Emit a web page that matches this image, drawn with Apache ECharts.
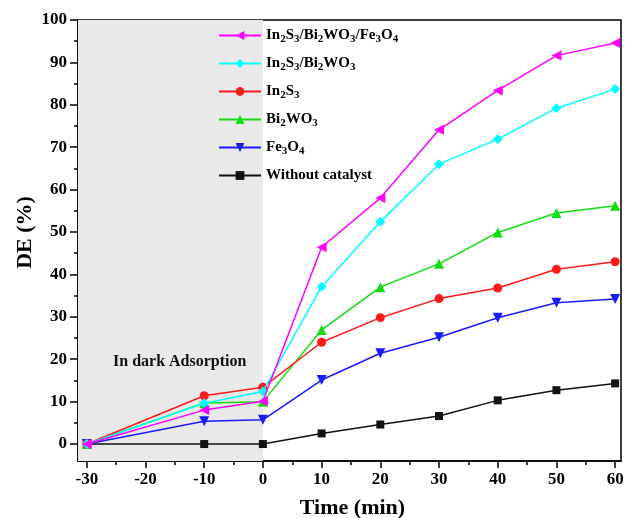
<!DOCTYPE html>
<html><head><meta charset="utf-8">
<script src="https://cdn.jsdelivr.net/npm/echarts@6/dist/echarts.min.js"></script>
<style>html,body{margin:0;padding:0;background:#fff}#c{width:626px;height:518px}</style>
</head><body><div id="c"></div>
<script>
const times = [-30, -10, 0, 10, 20, 30, 40, 50, 60];
const xTickLabels = [-30, -20, -10, 0, 10, 20, 30, 40, 50, 60];
const xMinorTicks = [-25, -15, -5, 5, 15, 25, 35, 45, 55];
const yTickLabels = [0, 10, 20, 30, 40, 50, 60, 70, 80, 90, 100];
const yMinorTicks = [5, 15, 25, 35, 45, 55, 65, 75, 85, 95];
const composite = [0, 8.0, 10.1, 46.4, 58.0, 74.1, 83.4, 91.6, 94.6];
const binary = [0, 9.6, 12.4, 37.1, 52.4, 66.0, 71.9, 79.2, 83.7];
const in2s3 = [0, 11.4, 13.4, 24.0, 29.8, 34.3, 36.8, 41.2, 43.0];
const bi2wo3 = [0, 9.7, 10.0, 26.9, 37.0, 42.5, 49.9, 54.5, 56.2];
const fe3o4 = [0, 5.4, 5.7, 15.1, 21.4, 25.2, 29.8, 33.3, 34.2];
const blank = [0, 0, 0, 2.5, 4.6, 6.6, 10.3, 12.7, 14.3];
const darkLabel = 'In dark Adsorption';
const darkEnd = 0;

const X_MIN = -31.5, X_MAX = 61, Y_MIN = -4, Y_MAX = 100;

const names = ['{n|In}{s|2}{n|S}{s|3}{n|/Bi}{s|2}{n|WO}{s|3}{n|/Fe}{s|3}{n|O}{s|4}',
  '{n|In}{s|2}{n|S}{s|3}{n|/Bi}{s|2}{n|WO}{s|3}',
  '{n|In}{s|2}{n|S}{s|3}',
  '{n|Bi}{s|2}{n|WO}{s|3}',
  '{n|Fe}{s|3}{n|O}{s|4}',
  '{n|Without catalyst}'];
const seriesIds = ['composite','binary','in2s3','bi2wo3','fe3o4','blank'];
const dataSets = [composite, binary, in2s3, bi2wo3, fe3o4, blank];
const colors = ['#ff00ff', '#00ffff', '#ff1a1a', '#11dd11', '#1a1aff', '#111111'];
const symbols = ['triangle', 'diamond', 'circle', 'triangle', 'triangle', 'rect'];
const rotations = [90, 0, 0, 0, 180, 0];
const sizes = [10, 10, 9, 10, 10, 8];

const serif = '"Liberation Serif", "DejaVu Serif", serif';
const chart = echarts.init(document.getElementById('c'));
const series = dataSets.map((d, i) => ({
  name: seriesIds[i],
  type: 'line',
  data: times.map((t, k) => [t, d[k]]),
  symbol: symbols[i],
  symbolRotate: rotations[i],
  symbolSize: sizes[i],
  lineStyle: { color: colors[i], width: 1.5 },
  itemStyle: { color: colors[i] },
  z: 10 - i,
  animation: false
}));
series[5].markArea = {
  silent: true,
  itemStyle: { color: '#e9e9e9' },
  label: {
    show: true, position: ['55%', '77.5%'], align: 'center', verticalAlign: 'middle',
    color: '#111', fontFamily: serif, fontWeight: 'bold', fontSize: 16
  },
  data: [[{ name: darkLabel, xAxis: X_MIN, yAxis: Y_MIN }, { xAxis: darkEnd, yAxis: Y_MAX }]]
};
const nameMap = {};
seriesIds.forEach((s, i) => nameMap[s] = names[i]);

const labelFont = { fontFamily: serif, fontWeight: 'bold', fontSize: 17, color: '#000' };
chart.setOption({
  animation: false,
  grid: { left: 78, right: 5, top: 20, bottom: 57, containLabel: false, outerBoundsMode: 'none',
    show: true, borderColor: '#000', borderWidth: 1.5, backgroundColor: 'transparent' },
  legend: {
    orient: 'vertical', left: 213, top: 23, itemWidth: 42, itemHeight: 11, itemGap: 11.5,
    data: seriesIds,
    formatter: n => nameMap[n],
    textStyle: {
      rich: {
        n: { fontFamily: serif, fontWeight: 'bold', fontSize: 15, color: '#000', lineHeight: 18 },
        s: { fontFamily: serif, fontWeight: 'bold', fontSize: 11, color: '#000', verticalAlign: 'bottom', padding: [6, 0, 0, 0] }
      }
    }
  },
  xAxis: [{
    type: 'value', min: X_MIN, max: X_MAX,
    name: 'Time (min)', nameLocation: 'middle', nameGap: 36,
    nameTextStyle: { fontFamily: serif, fontWeight: 'bold', fontSize: 22, color: '#000', padding: [0, 0, 0, 6] },
    axisLine: { onZero: false, lineStyle: { color: '#000', width: 1.5 } },
    axisTick: { show: true, length: 7, lineStyle: { color: '#000', width: 1.5 }, customValues: xTickLabels },
    axisLabel: Object.assign({ customValues: xTickLabels, margin: 10 }, labelFont),
    splitLine: { show: false }
  }, {
    type: 'value', min: X_MIN, max: X_MAX, position: 'bottom',
    axisLine: { show: false, onZero: false },
    axisTick: { show: true, length: 4, lineStyle: { color: '#000', width: 1.5 }, customValues: xMinorTicks },
    axisLabel: { show: false },
    splitLine: { show: false }
  }],
  yAxis: [{
    type: 'value', min: Y_MIN, max: Y_MAX,
    name: 'DE (%)', nameLocation: 'middle', nameGap: 42, nameRotate: 90, nameMoveOverlap: false,
    nameTextStyle: { fontFamily: serif, fontWeight: 'bold', fontSize: 22, color: '#000', padding: [0, 0, 0, 16] },
    axisLine: { show: true, onZero: false, lineStyle: { color: '#000', width: 1.5 } },
    axisTick: { show: true, length: 8, lineStyle: { color: '#000', width: 1.5 }, customValues: yTickLabels },
    axisLabel: Object.assign({ customValues: yTickLabels, margin: 11 }, labelFont),
    splitLine: { show: false }
  }, {
    type: 'value', min: Y_MIN, max: Y_MAX, position: 'left',
    axisLine: { show: false, onZero: false },
    axisTick: { show: true, length: 4, lineStyle: { color: '#000', width: 1.5 }, customValues: yMinorTicks },
    axisLabel: { show: false },
    splitLine: { show: false }
  }],
  series: series
});
</script></body></html>
